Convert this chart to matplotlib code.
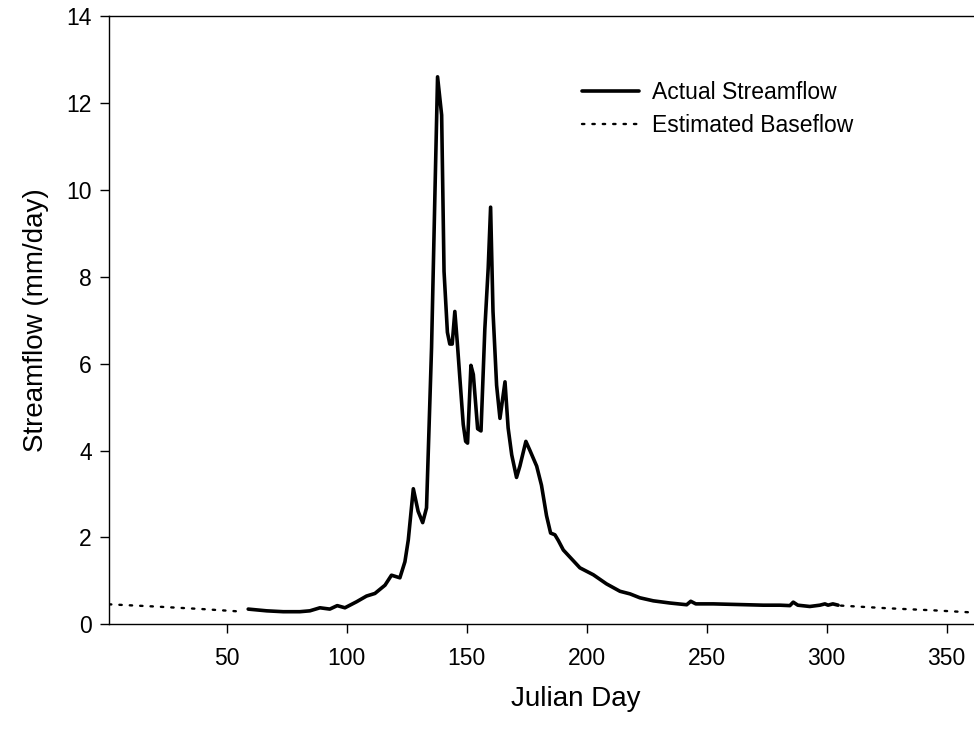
import numpy as np
import matplotlib
matplotlib.use("Agg")
import matplotlib.pyplot as plt

plt.rcParams['font.family'] = ['Liberation Sans', 'DejaVu Sans']

# actual streamflow (julian day, mm/day)
flow_days = [59, 66.7, 73.6, 80.5, 84.7, 88.9, 93, 96.1, 99.3, 104.2, 108.3, 111.8, 116,
             118.7, 122.2, 124.3, 125.7, 127.8, 129.8, 131.7, 133.3, 135.4, 136.8, 137.9,
             139.6, 140.6, 142, 143, 144, 145.1, 146.1, 147.2, 148.6, 149.6, 150.4, 151.8,
             152.8, 154.6, 156, 157.6, 159, 160, 161, 162.5, 163.9, 166, 167.3, 168.8,
             170.8, 172.2, 174.7, 176.4, 179.2, 181.2, 183.3, 185, 186.8, 188.2, 190.3,
             197.2, 202.8, 208.3, 213.9, 218.1, 222.2, 227.8, 234.7, 241.7, 243.4, 245.5,
             252.8, 259.7, 266.7, 273.6, 280.6, 284.7, 286.1, 288, 293, 297.2, 299.3,
             300.6, 302.6, 304.8]
flow_vals = [0.35, 0.31, 0.29, 0.29, 0.31, 0.38, 0.35, 0.43, 0.38, 0.52, 0.65, 0.71, 0.90,
             1.13, 1.07, 1.44, 1.94, 3.12, 2.6, 2.34, 2.68, 6.37, 9.9, 12.6,
             11.72, 8.12, 6.72, 6.45, 6.45, 7.2, 6.5, 5.66, 4.6, 4.21, 4.17, 5.96,
             5.75, 4.5, 4.45, 6.8, 8.2, 9.6, 7.2, 5.5, 4.74, 5.58, 4.52, 3.9,
             3.38, 3.64, 4.21, 4.0, 3.64, 3.2, 2.5, 2.1, 2.06, 1.93, 1.71,
             1.30, 1.14, 0.93, 0.76, 0.70, 0.61, 0.54, 0.49, 0.45, 0.53, 0.47,
             0.47, 0.46, 0.45, 0.44, 0.44, 0.43, 0.51, 0.44, 0.41, 0.44, 0.47,
             0.44, 0.47, 0.44]

# estimated baseflow, only visible outside the streamflow record
base_days_early = [1, 20, 40, 57]
base_vals_early = [0.46, 0.41, 0.35, 0.29]
base_days_late = [306, 325, 345, 365]
base_vals_late = [0.43, 0.37, 0.32, 0.26]

fig = plt.figure(figsize=(9.74, 7.31), dpi=100)
ax = fig.add_axes([109 / 974, 106.7 / 731, 876 / 974, 608.3 / 731])

ax.plot(flow_days, flow_vals, color='black', lw=2.6, solid_joinstyle='round',
        solid_capstyle='round', label='Actual Streamflow')
ax.plot(base_days_early, base_vals_early, color='black', lw=1.7,
        linestyle=(0, (1, 3.4)), dash_capstyle='round', label='Estimated Baseflow')
ax.plot(base_days_late, base_vals_late, color='black', lw=1.7,
        linestyle=(0, (1, 3.4)), dash_capstyle='round')

ax.set_xlim(1, 366)
ax.set_ylim(0, 14)
ax.set_xticks([50, 100, 150, 200, 250, 300, 350])
ax.set_yticks([0, 2, 4, 6, 8, 10, 12, 14])
ax.tick_params(direction='out', length=6.5, width=1, labelsize=16.5)
ax.tick_params(axis='x', pad=10)
ax.tick_params(axis='y', pad=6)
for s in ax.spines.values():
    s.set_linewidth(1)

ax.set_xlabel('Julian Day', fontsize=20)
ax.xaxis.set_label_coords((576 - 109) / 876, -(686 - 624.3) / 608.3)
ax.set_ylabel('Streamflow (mm/day)', fontsize=20, labelpad=12)

ax.legend(loc='upper left', bbox_to_anchor=(582 / 974, 1 - 81 / 731),
          bbox_transform=fig.transFigure, frameon=False, fontsize=16.5,
          handlelength=2.5, handletextpad=0.55, labelspacing=0.43,
          borderaxespad=0, borderpad=0)

fig.savefig('out.png', dpi=100)
